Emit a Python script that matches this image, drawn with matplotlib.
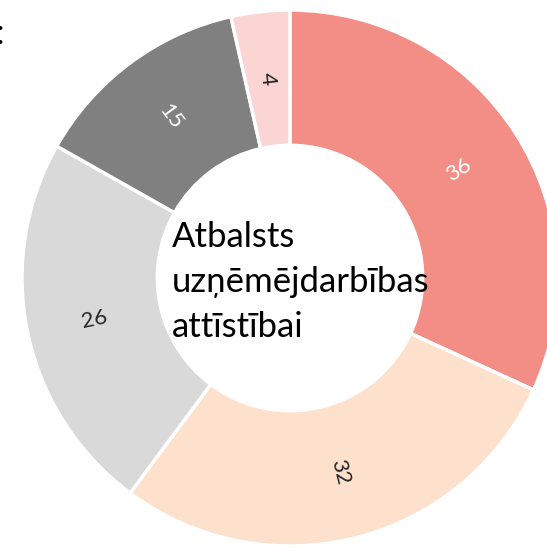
import numpy as np
import matplotlib
matplotlib.use("Agg")
import matplotlib.pyplot as plt

values = [36, 32, 26, 15, 4]
colors = ["#F28E86", "#FDE1CD", "#D9D9D9", "#808080", "#FAD5D3"]
label_colors = ["white", "#262626", "#262626", "white", "#262626"]
center_lines = ["Atbalsts", "uzņēmējdarbības", "attīstībai"]

W, H = 547, 551
CX, CY, R = 290, 278, 268  # pixel centre and outer radius

fig = plt.figure(figsize=(W / 100, H / 100), dpi=100)
ax = fig.add_axes([0, 0, 1, 1])

wedges, _ = ax.pie(values, colors=colors, startangle=90, counterclock=False,
                   radius=1.0,
                   wedgeprops=dict(width=0.505, edgecolor="white", linewidth=2.5))
ax.set_xlim(-CX / R, (W - CX) / R)
ax.set_ylim(-(H - CY) / R, CY / R)
ax.set_aspect("equal")
ax.axis("off")

# value labels, radial orientation
for w, v, c in zip(wedges, values, label_colors):
    mid = (w.theta1 + w.theta2) / 2
    r = 1 - 0.505 / 2
    x, y = r * np.cos(np.radians(mid)), r * np.sin(np.radians(mid))
    rot = (mid + 180) % 360 - 180
    if rot > 90:
        rot -= 180
    elif rot < -90:
        rot += 180
    ax.text(x, y, str(v), ha="center", va="center", rotation=rot,
            rotation_mode="anchor", fontsize=16, color=c,
            family=["Lato", "DejaVu Sans"])

# centre title, left aligned
for i, line in enumerate(center_lines):
    fig.text(172 / W, 1 - (247 + 45 * i) / H, line, ha="left", va="baseline",
             fontsize=25, color="black", family=["Lato", "DejaVu Sans"])

fig.text(0 / W, 1 - 44 / H, ":", ha="center", va="baseline", fontsize=25,
         color="black", family=["Lato", "DejaVu Sans"])

fig.savefig("out.png", dpi=100, facecolor="white")
